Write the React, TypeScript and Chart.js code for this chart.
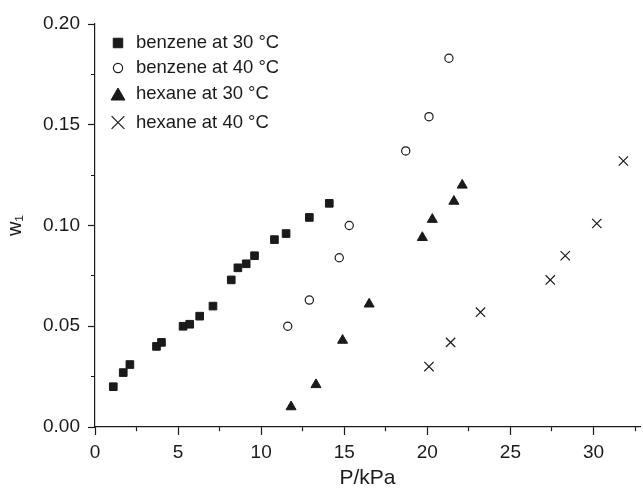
import React, { useEffect, useRef } from 'react';
import { Chart, registerables } from 'chart.js';
import { drawPoint } from 'chart.js/helpers';

Chart.register(...registerables);

// ---- data ----
const benzene30P = [1.1, 1.7, 2.1, 3.7, 4.0, 5.3, 5.7, 6.3, 7.1, 8.2, 8.6, 9.1, 9.6, 10.8, 11.5, 12.9, 14.1];
const benzene30W = [0.020, 0.027, 0.031, 0.040, 0.042, 0.050, 0.051, 0.055, 0.060, 0.073, 0.079, 0.081, 0.085, 0.093, 0.096, 0.104, 0.111];
const benzene40P = [11.6, 12.9, 14.7, 15.3, 18.7, 20.1, 21.3];
const benzene40W = [0.050, 0.063, 0.084, 0.100, 0.137, 0.154, 0.183];
const hexane30P = [11.8, 13.3, 14.9, 16.5, 19.7, 20.3, 21.6, 22.1];
const hexane30W = [0.010, 0.021, 0.043, 0.061, 0.094, 0.103, 0.112, 0.120];
const hexane40P = [20.1, 21.4, 23.2, 27.4, 28.3, 30.2, 31.8];
const hexane40W = [0.030, 0.042, 0.057, 0.073, 0.085, 0.101, 0.132];
const seriesLabels = ['benzene at 30 °C', 'benzene at 40 °C', 'hexane at 30 °C', 'hexane at 40 °C'];
const xTitle = 'P/kPa';
const yTitle = 'w₁';

const FONT = "'Liberation Sans', Arial, sans-serif";
const INK = '#1a1a1a';

const pts = (xs: number[], ys: number[]) => xs.map((x, i) => ({ x, y: ys[i] }));

const legendRows = [19, 44, 70, 98.5];
const legendRadius = [6.7, 4.6, 8, 9];

const legendPlugin = {
  id: 'insideLegend',
  afterDraw(chart: any) {
    const { ctx, chartArea } = chart;
    ctx.save();
    chart.data.datasets.forEach((ds: any, i: number) => {
      const mx = chartArea.left + 23;
      const my = chartArea.top + legendRows[i];
      ctx.fillStyle = ds.backgroundColor;
      ctx.strokeStyle = ds.borderColor;
      ctx.lineWidth = ds.borderWidth;
      ctx.setLineDash([]);
      const cy = ds.pointStyle === 'triangle' ? my + legendRadius[i] / 4 : my;
      drawPoint(ctx, { pointStyle: ds.pointStyle, radius: legendRadius[i], borderWidth: ds.borderWidth, rotation: 0 }, mx, cy);
      ctx.fillStyle = INK;
      ctx.font = `18.5px ${FONT}`;
      ctx.textAlign = 'left';
      ctx.textBaseline = 'middle';
      ctx.fillText(ds.label, chartArea.left + 41, my);
    });
    ctx.restore();
  },
};

const isMult = (v: number, s: number) => Math.abs(v / s - Math.round(v / s)) < 1e-6;

export default function App() {
  const ref = useRef<HTMLCanvasElement>(null);
  useEffect(() => {
    const chart = new Chart(ref.current as HTMLCanvasElement, {
      type: 'scatter',
      data: {
        datasets: [
          { label: seriesLabels[0], data: pts(benzene30P, benzene30W), pointStyle: 'rect', pointRadius: 5.4, borderWidth: 1, backgroundColor: INK, borderColor: INK },
          { label: seriesLabels[1], data: pts(benzene40P, benzene40W), pointStyle: 'circle', pointRadius: 4.1, borderWidth: 1.2, backgroundColor: '#ffffff', borderColor: INK },
          { label: seriesLabels[2], data: pts(hexane30P, hexane30W), pointStyle: 'triangle', pointRadius: 5.8, borderWidth: 1, backgroundColor: INK, borderColor: INK },
          { label: seriesLabels[3], data: pts(hexane40P, hexane40W), pointStyle: 'crossRot', pointRadius: 6.6, borderWidth: 1.2, backgroundColor: INK, borderColor: INK },
        ] as any,
      },
      options: {
        responsive: false,
        animation: false,
        events: [],
        layout: { autoPadding: false, padding: { top: 24, right: 3, left: 0, bottom: 0 } },
        plugins: { legend: { display: false }, tooltip: { enabled: false } },
        scales: {
          x: {
            type: 'linear',
            min: 0,
            max: 32.8,
            afterFit: (s: any) => { s.height = 61; s.paddingLeft = 0; s.paddingRight = 0; },
            border: { display: true, color: INK, width: 1.2 },
            grid: {
              drawOnChartArea: false,
              drawTicks: true,
              tickLength: 8,
              tickColor: INK,
              tickWidth: 1.2,
              tickBorderDash: (c: any) => (isMult(c.tick.value, 5) ? [] : [4, 100]),
            } as any,
            ticks: {
              stepSize: 2.5,
              includeBounds: false,
              autoSkip: false,
              maxRotation: 0,
              padding: 6,
              color: INK,
              font: { family: FONT, size: 19 },
              callback: (v: any) => (isMult(Number(v), 5) ? String(Math.round(Number(v))) : ''),
            },
            title: { display: true, text: xTitle, color: INK, font: { family: FONT, size: 21, lineHeight: 1 }, padding: { top: 0, bottom: -1 } },
          },
          y: {
            type: 'linear',
            min: 0,
            max: 0.2,
            afterFit: (s: any) => { s.width = 95; },
            border: { display: true, color: INK, width: 1.2 },
            grid: {
              drawOnChartArea: false,
              drawTicks: true,
              tickLength: 7,
              tickColor: INK,
              tickWidth: 1.2,
              tickBorderDash: (c: any) => (isMult(c.tick.value, 0.05) ? [] : [0, 3, 4, 100]),
            } as any,
            ticks: {
              stepSize: 0.025,
              autoSkip: false,
              padding: 8,
              color: INK,
              font: { family: FONT, size: 19 },
              callback: (v: any) => (isMult(Number(v), 0.05) ? Number(v).toFixed(2) : ''),
            },
            title: { display: true, text: yTitle, color: INK, font: { family: FONT, size: 20, lineHeight: 1 }, padding: { top: 5, bottom: 0 } },
          },
        },
      },
      plugins: [legendPlugin],
    } as any);
    return () => chart.destroy();
  }, []);
  return (
    <div style={{ position: 'fixed', left: 0, top: 0, width: 643, height: 488, background: '#fff' }}>
      <canvas ref={ref} width={643} height={488} style={{ display: 'block' }} />
    </div>
  );
}
